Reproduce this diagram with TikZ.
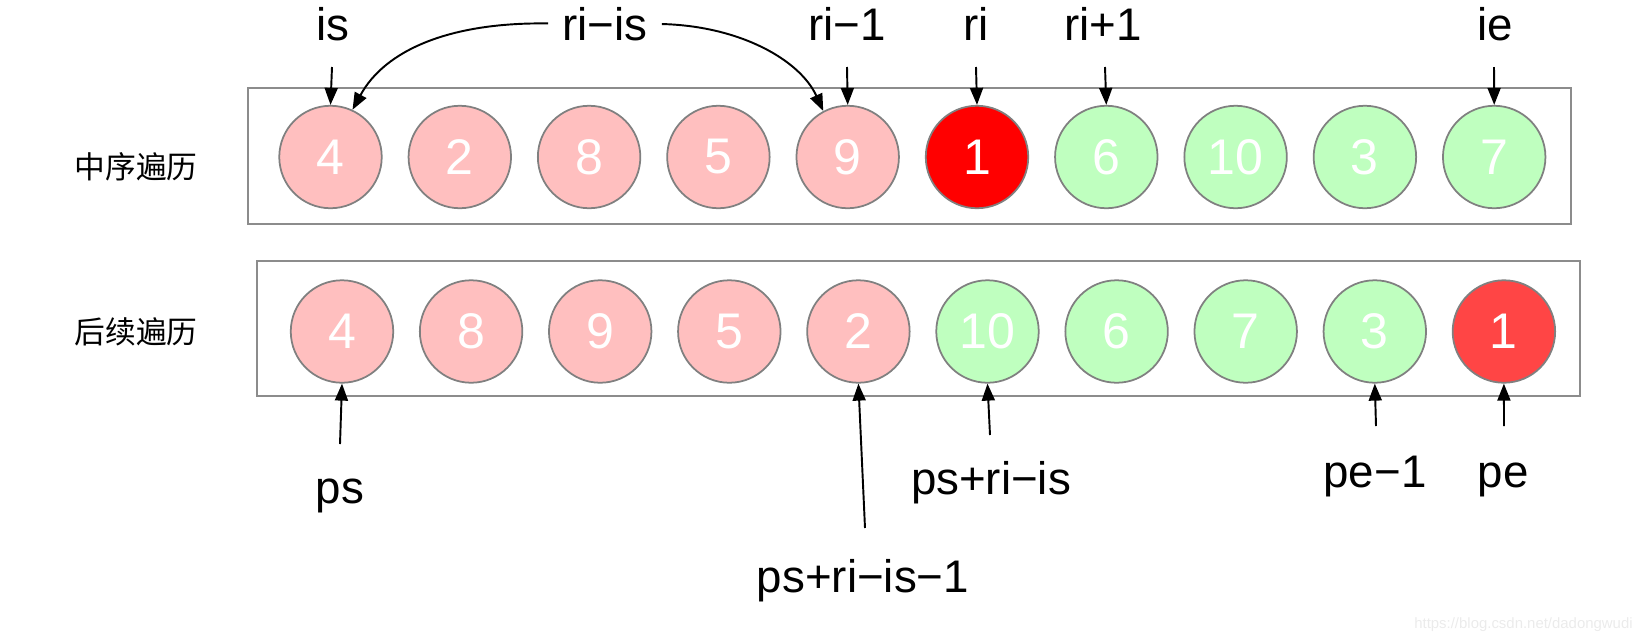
\documentclass[tikz,border=0pt]{standalone}
\usepackage{fontspec}
\setmainfont{Liberation Sans}
\newfontfamily\cjkfont{Noto Sans CJK SC}
\usetikzlibrary{arrows.meta}

\definecolor{ballpink}{HTML}{FFBFBF}
\definecolor{ballgreen}{HTML}{BFFFBF}
\definecolor{rootred}{HTML}{FF0000}
\definecolor{rootlight}{HTML}{FF4545}
\definecolor{ringgray}{HTML}{808080}
\definecolor{boxgray}{HTML}{8C8C8C}
\definecolor{markgray}{HTML}{EBEBEB}

\tikzset{
  ball/.style={circle,draw=ringgray,line width=1pt,minimum size=2.05cm,inner sep=0pt,text=white,font=\fontsize{28.5}{29}\selectfont},
  pinkball/.style={ball,fill=ballpink},
  greenball/.style={ball,fill=ballgreen},
  redball/.style={ball,fill=rootred},
  lightredball/.style={ball,fill=rootlight},
  rowbox/.style={draw=boxgray,line width=1pt},
  lbl/.style={anchor=base,inner sep=0pt,font=\fontsize{26}{30}\selectfont},
  ptr/.style={line width=1.1pt,-{Triangle[length=0.34cm,width=0.26cm]}}
}

\begin{document}
\begin{tikzpicture}[x=0.02cm,y=-0.02cm]
  \useasboundingbox (0,0) rectangle (1640,643);
  \draw[rowbox] (248,88) rectangle (1571,224);
  \draw[rowbox] (257,261) rectangle (1580,396);
  \node[font=\cjkfont\fontsize{17.5}{20}\selectfont] (inname) at (136,167) {中序遍历};
  \node[font=\cjkfont\fontsize{17.5}{20}\selectfont] (postname) at (136,332) {后续遍历};

  % inorder row
  \foreach \v/\s [count=\k] in {4/pinkball,2/pinkball,8/pinkball,5/pinkball,9/pinkball,1/redball,6/greenball,10/greenball,3/greenball,7/greenball}
    \node[\s] (in\k) at ({330.5+129.3*(\k-1)},157) {\v};
  % postorder row
  \foreach \v/\s [count=\k] in {4/pinkball,8/pinkball,9/pinkball,5/pinkball,2/pinkball,10/greenball,6/greenball,7/greenball,3/greenball,1/lightredball}
    \node[\s] (po\k) at ({342+129.1*(\k-1)},331.5) {\v};

  \node[lbl] (is) at (333,40) {is};
  \node[lbl] (riis) at (605,40) {ri−is};
  \node[lbl] (rim) at (847,40) {ri−1};
  \node[lbl] (ri) at (976,40) {ri};
  \node[lbl] (rip) at (1103,40) {ri+1};
  \node[lbl] (ie) at (1495,40) {ie};

  \coordinate (isT) at (332,67);
  \coordinate (rimT) at (847,67);
  \coordinate (riT) at (976,67);
  \coordinate (ripT) at (1105,67);
  \coordinate (ieT) at (1494,67);
  \draw[ptr] (isT) -- (in1.north);
  \draw[ptr] (rimT) -- (in5.north);
  \draw[ptr] (riT) -- (in6.north);
  \draw[ptr] (ripT) -- (in7.north);
  \draw[ptr] (ieT) -- (in10.north);
  \draw[ptr,shorten <=0.28cm] (riis.west) .. controls (450,22) and (385,50) .. (in1.65);
  \draw[ptr,shorten <=0.28cm] (riis.east) .. controls (740,26) and (800,60) .. (in5.118);

  \node[lbl] (ps) at (340,503) {ps};
  \node[lbl] (psriism) at (863,592) {ps+ri−is−1};
  \node[lbl] (psriis) at (991,494) {ps+ri−is};
  \node[lbl] (pem) at (1375,487) {pe−1};
  \node[lbl] (pe) at (1503,487) {pe};

  \coordinate (psT) at (340,444);
  \coordinate (psriismT) at (865,528);
  \coordinate (psriisT) at (990,435);
  \coordinate (pemT) at (1376,426);
  \coordinate (peT) at (1504,426);
  \draw[ptr] (psT) -- (po1.south);
  \draw[ptr] (psriismT) -- (po5.south);
  \draw[ptr] (psriisT) -- (po6.south);
  \draw[ptr] (pemT) -- (po9.south);
  \draw[ptr] (peT) -- (po10.south);

  \node[anchor=base east,inner sep=0pt,text=markgray,font=\fontsize{8.5}{10}\selectfont] (mark) at (1633,628) {https://blog.csdn.net/dadongwudi};
\end{tikzpicture}
\end{document}
